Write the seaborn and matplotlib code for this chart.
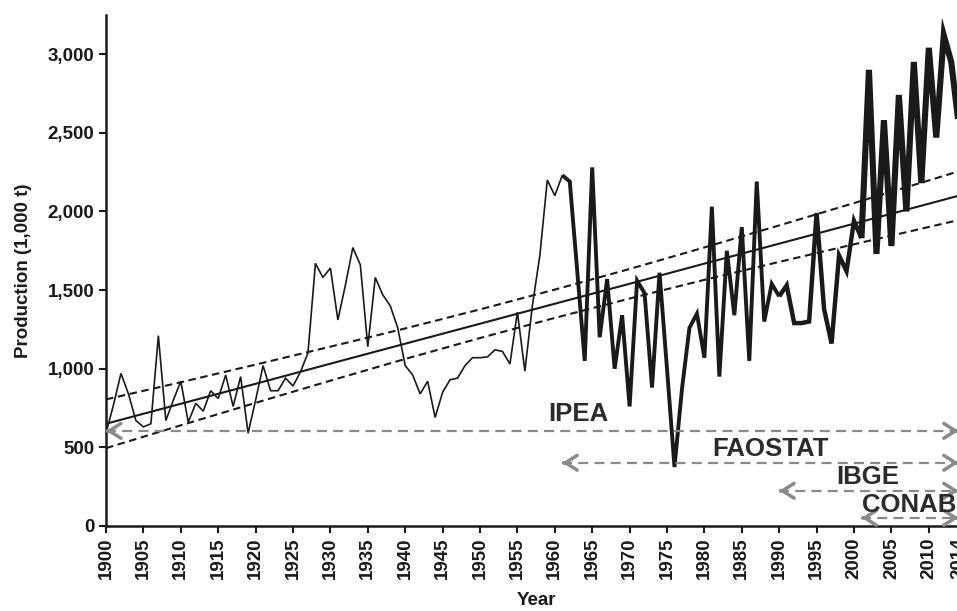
import matplotlib
matplotlib.use("Agg")
import matplotlib.pyplot as plt
import numpy as np
import pandas as pd
import seaborn as sns
from matplotlib.ticker import FuncFormatter

# Annual production, 1900-2014 (1,000 t)
years = list(range(1900, 2015))
production = [
    590, 770, 970, 840, 670, 630, 650, 1210, 670, 800,      # 1900-1909
    920, 660, 780, 730, 860, 810, 960, 760, 950, 590,       # 1910-1919
    800, 1020, 860, 860, 940, 890, 980, 1100, 1670, 1580,   # 1920-1929
    1640, 1310, 1530, 1770, 1660, 1140, 1580, 1470, 1400, 1260,  # 1930-1939
    1020, 960, 840, 920, 690, 850, 930, 940, 1020, 1070,    # 1940-1949
    1070, 1075, 1120, 1110, 1030, 1360, 985, 1400, 1720, 2200,   # 1950-1959
    2100, 2230, 2190, 1620, 1050, 2280, 1200, 1570, 1000, 1340,  # 1960-1969
    760, 1560, 1480, 880, 1610, 1000, 375, 870, 1260, 1350,      # 1970-1979
    1070, 2030, 950, 1750, 1340, 1900, 1050, 2190, 1300, 1540,   # 1980-1989
    1460, 1530, 1290, 1290, 1300, 1990, 1380, 1160, 1720, 1620,  # 1990-1999
    1940, 1830, 2900, 1730, 2580, 1780, 2740, 2000, 2950, 2180,  # 2000-2009
    3040, 2470, 3120, 2950, 2550,                                # 2010-2014
]

# Fitted trend with its upper and lower bounds
trend_years = [1900, 1910, 1920, 1930, 1940, 1950, 1960, 1970, 1980, 1990, 2000, 2010, 2014]
trend = [650, 777, 904, 1032, 1159, 1286, 1413, 1540, 1668, 1795, 1922, 2049, 2100]
upper = [805, 914, 1026, 1140, 1256, 1377, 1503, 1634, 1771, 1911, 2053, 2197, 2255]
lower = [495, 640, 783, 924, 1062, 1195, 1323, 1446, 1565, 1679, 1791, 1901, 1945]

# Data sources and the years they cover
sources = ["IPEA", "FAOSTAT", "IBGE", "CONAB"]
source_start = [1900, 1961, 1990, 2001]
source_end = [2014, 2014, 2014, 2014]

# Year ticks
xticks = list(range(1900, 2011, 5)) + [2014]

# ---------------------------------------------------------------- styling
INK = "#1a1a1a"
GREY = "#8a8a8a"
arrow_y = [605, 402, 224, 52]
label_xy = [(1963.2, 712), (1988.8, 490), (2001.9, 311), (2001.1, 133)]
label_ha = ["center", "center", "center", "left"]
seg_widths = [1.2, 2.8, 3.2, 4.4]

sns.set_theme(style="ticks")
plt.rcParams["font.family"] = ["Liberation Sans", "DejaVu Sans"]
plt.rcParams["font.weight"] = "bold"

W, H = 957, 611
fig = plt.figure(figsize=(W / 100, H / 100), dpi=100)
x_left, x_right = 106, 106 + 115 * 7.48
y_bottom, y_top = 526, 14.8
ax = fig.add_axes([x_left / W, (H - y_bottom) / H,
                   (x_right - x_left) / W, (y_bottom - y_top) / H])

df = pd.DataFrame({"Year": years, "Production": production})
tr = pd.DataFrame({"Year": trend_years, "trend": trend, "upper": upper, "lower": lower})

# trend and bounds
sns.lineplot(data=tr, x="Year", y="trend", ax=ax, color=INK, lw=1.5,
             estimator=None, sort=False, zorder=2)
for col in ["upper", "lower"]:
    sns.lineplot(data=tr, x="Year", y=col, ax=ax, color=INK, lw=1.5,
                 estimator=None, sort=False, zorder=2, dashes=False,
                 linestyle=(0, (3.6, 2.2)))

# production series, heavier where more sources overlap
bounds = source_start + [source_end[0]]
for i, lw in enumerate(seg_widths):
    sub = df[(df.Year >= bounds[i]) & (df.Year <= bounds[i + 1])]
    sns.lineplot(data=sub, x="Year", y="Production", ax=ax, color=INK, lw=lw,
                 estimator=None, sort=False, zorder=3,
                 solid_joinstyle="miter", solid_capstyle="butt")

# source coverage arrows
for name, s, e, yv, (lx, ly), ha in zip(sources, source_start, source_end,
                                         arrow_y, label_xy, label_ha):
    ax.plot([s, e], [yv, yv], color=GREY, lw=1.6, linestyle=(0, (4.5, 2.8)),
            zorder=4, solid_capstyle="butt")
    for tip, tail in [(s, s + 0.3), (e, e - 0.3)]:
        ax.annotate("", xy=(tip, yv), xytext=(tail, yv),
                    arrowprops=dict(arrowstyle="->,head_length=0.6,head_width=0.38",
                                    lw=2.5, color=GREY, shrinkA=0, shrinkB=0,
                                    mutation_scale=14),
                    zorder=4, annotation_clip=False)
    ax.text(lx, ly, name, ha=ha, va="center", fontsize=18.5, fontweight="bold",
            color="#2b2b2b", zorder=5)

ax.set_xlim(1900, 2015)
ax.set_ylim(0, 3250)
ax.set_xticks(xticks)
ax.set_yticks(list(range(0, 3001, 500)))
ax.yaxis.set_major_formatter(FuncFormatter(lambda v, p: f"{int(v):,}"))
for lab in ax.get_xticklabels():
    lab.set_rotation(90)
ax.tick_params(axis="both", direction="out", length=5, width=1.5, colors=INK,
               labelsize=13.5)
for lab in ax.get_xticklabels() + ax.get_yticklabels():
    lab.set_fontweight("bold")

sns.despine(ax=ax)
for sp in ["left", "bottom"]:
    ax.spines[sp].set_linewidth(1.8)
    ax.spines[sp].set_color(INK)

ax.set_xlabel("Year", fontsize=13.5, fontweight="bold", color=INK, labelpad=9)
ax.set_ylabel("Production (1,000 t)", fontsize=13.5, fontweight="bold", color=INK,
              labelpad=11)

fig.savefig("out.png", dpi=100)
